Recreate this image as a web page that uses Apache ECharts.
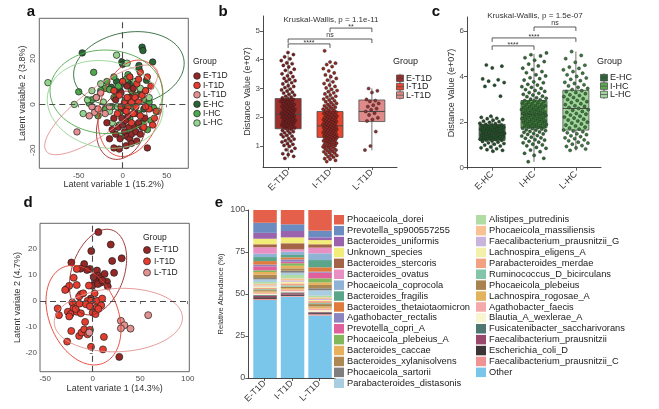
<!DOCTYPE html>
<html>
<head>
<meta charset="utf-8">
<script src="https://cdn.jsdelivr.net/npm/echarts@6/dist/echarts.min.js"></script>
<style>
html, body { margin: 0; padding: 0; background: #fff; }
#main { width: 659px; height: 409px; }
</style>
</head>
<body>
<div id="main"></div>
<script>
// groups and colours
var groupsT1D = ['E-T1D', 'I-T1D', 'L-T1D'];
var groupsHC = ['E-HC', 'I-HC', 'L-HC'];
var colorsT1D = ['#952727', '#E43D2F', '#E39190'];
var colorsHC = ['#2A6535', '#4FA84B', '#93D48E'];
var boxFillT1D = ['#9C2E2C', '#E8462F', '#DE8B89'];
var boxFillHC = ['#2E6A39', '#5CAE50', '#A1D79C'];
var pointT1D = ['#7a1c1c', '#952620', '#8a3434'];
var pointHC = ['#234f28', '#2f6a31', '#3a7a3b'];

// panel a : scores, latent variable 1 / 2
var scoresA_ET1D = [[2,-12],[5,-14],[8,-15],[10,-13],[12,-10],[-3,-15],[-8,-13],[-12,-11],[-5,-10],[0,-9],[3,-7],[6,-5],
  [-10,-6],[15,-12],[18,-8],[-15,-15],[-4,-19.5],[-10,-19],[4,-18],[10,-17],[20,-13],[8,3],[12,7],[-2,5],[5,8],
  [-8,2],[1,-2],[14,-4],[25,-6],[-18,-8],[28,-19],[7,-10],[-1,-6],[16,-16],[22,-10]];
var scoresA_IT1D = [[2,0.5],[6,-1],[10,1],[14,3],[18,1],[22,4],[26,6],[30,-2],[36,-6],[38,-3],[20,-5],[12,-4],
  [4,-3],[-4,4],[-10,6],[0,10],[8,12],[16,9],[28,12],[32,8],[24,-10],[34,-9],[-6,-4],[15,-1],[20,14],[18,11],
  [10,-8],[5,3],[-2,-1],[26,-1]];
var scoresA_LT1D = [[-35,-1],[-32,-3.5],[-28,-2],[-38,-5],[-52,-12],[-20,-4],[-25,5],[-15,-1],[-30,3]];
var scoresA_EHC = [[-46,22.5],[22,25],[23,23.5],[34,18.5],[-1,18.5],[0,17.5],[18.5,17],[18.5,15.5],[0,10],[1.5,9],
  [6,9.5],[27,10.5],[11.5,8.8],[-7,10],[-13,7.5],[8,12],[20,5],[-3,6],[14,3],[24,-2]];
var scoresA_IHC = [[-33,14],[-50,5.5],[6,13],[-20,7],[-15,6.5],[-25,6],[-30,3],[-38,0.5],[-10,3],[-5,8],[4,11],
  [10,6],[15,4],[25,2],[30,1],[35,-1.5],[18,-4],[22,-8],[28,-11],[8,-6],[-2,-3],[-12,-1],[-20,-2],[-28,-5],
  [-35,2],[-18,10],[-10,12],[3,2],[12,-1],[26,6],[32,-7],[16,-9],[-4,-9]];
var scoresA_LHC = [[-85,9.5],[-7,21.5],[-45,-4],[-55,0],[-40,2],[-30,-2],[-22,1],[-15,-3],[-6,-1],[2,1],[8,3],
  [14,10],[20,7],[5,18],[-25,9],[-35,6],[24,-6],[10,-12],[-2,-14],[30,3],[-12,-8],[40,-3]];
// ellipse: centre x, centre y, axis vector u (x,y), axis vector v (x,y)
var ellipsesA = [[-1.1,-9.1,9.1,14.8,27.3,-1.7],[8.7,-1.7,13.6,20.9,34.1,-2.6],[-24.4,-2.4,62.5,18,15,-7.7],
  [7,15.5,62,5,-10,15.5],[-18.5,5.5,63,3,-12,18],[-20,0,65,-5,10,18.5]];

// panel d : scores, latent variate 1 / 2
var scoresD_ET1D = [[6,26.6],[19,21.8],[-1.5,19.3],[20.5,15.5],[30.5,16.5],[22.5,10.9],[-22.5,14.9],[-9,14.3],
  [-3,12.4],[4.5,11.8],[6,9.8],[8,8.8],[12.5,10.5],[2.5,7.9],[9,7.2],[15,7.5],[-0.5,5.9],[15.8,5.7],[5.5,6.6],
  [-6,12],[-13,12.5],[10,8],[1,9.3],[-2,1],[28,-21.5]];
var scoresD_IT1D = [[-16.8,12.4],[-27.6,4.7],[-24.7,5.9],[-29,4.3],[-16.8,6.2],[-12.5,2.7],[-14.3,1.8],[-5.4,0.1],
  [-1.8,0.1],[-7.2,-1.2],[4.7,0.1],[3.6,-2.5],[9,-1.6],[0,-4.4],[-21.5,-0.5],[-20.4,-2.8],[-36.9,-2.8],[-35.5,-5.4],
  [-26.2,-4.1],[-23.3,-5],[-24.7,-5.9],[-16.8,-4.1],[-22.6,-11.5],[-14.3,-13.4],[-11.8,-12.1],[-9,-10.9],
  [-5.4,-12.8],[-2.9,-11.1],[-26.9,-15.6],[-1.8,-17.6],[11.8,-13.8],[10.8,-18.6],[-12.5,-4.7],[-18,-3],[-8,-8],
  [3,-5],[6,-3],[-3,-2],[10,1],[-10,3],[-20,9],[-4,6],[2,3],[-14,-1]];
var scoresD_LT1D = [[58.4,-5.4],[29.7,-7.6],[33.3,-9.3],[39.8,-10.6],[29.7,-10.5],[-3.6,-12.1]];
var ellipsesD = [[5.6,11.2,14.7,16.2,26.3,-3.1],[-9.7,-5.4,-21,18.5,33.4,5.1],[27,-7.3,67.5,1,1,-12.2]];

// panel b / c : distance values (e+07)
var distET1D = [0.57,0.64,0.7,0.73,0.82,0.87,0.92,0.99,1.02,1.06,1.08,1.14,1.17,1.19,1.24,1.26,1.32,1.34,1.37,1.4,
  1.45,1.46,1.5,1.53,1.54,1.58,1.61,1.63,1.63,1.67,1.7,1.71,1.73,1.76,1.78,1.8,1.81,1.84,1.86,1.87,1.89,1.92,1.93,
  1.95,1.97,1.99,2.01,2.02,2.04,2.06,2.07,2.09,2.11,2.12,2.15,2.16,2.18,2.2,2.21,2.23,2.26,2.27,2.29,2.31,2.33,2.36,
  2.37,2.39,2.42,2.44,2.46,2.48,2.51,2.53,2.55,2.58,2.6,2.62,2.64,2.67,2.7,2.73,2.77,2.8,2.84,2.87,2.91,2.95,2.98,
  3.03,3.07,3.1,3.16,3.2,3.25,3.27,3.32,3.35,3.41,3.44,3.51,3.55,3.63,3.67,3.75,3.8,3.86,3.89,3.97,4.03,4.1,4.18,4.25];
var distIT1D = [0.46,0.5,0.54,0.56,0.61,0.63,0.67,0.68,0.72,0.75,0.77,0.8,0.81,0.84,0.86,0.88,0.91,0.92,0.95,0.97,
  0.99,1.0,1.02,1.04,1.05,1.07,1.09,1.1,1.12,1.14,1.15,1.17,1.18,1.2,1.21,1.23,1.24,1.26,1.27,1.28,1.3,1.31,1.33,
  1.34,1.35,1.36,1.38,1.39,1.4,1.42,1.43,1.44,1.46,1.47,1.48,1.5,1.51,1.52,1.54,1.55,1.56,1.58,1.59,1.6,1.61,1.63,
  1.64,1.65,1.66,1.68,1.69,1.7,1.71,1.73,1.74,1.75,1.77,1.78,1.79,1.81,1.82,1.83,1.85,1.86,1.88,1.89,1.9,1.92,1.93,
  1.95,1.96,1.98,1.99,2.01,2.03,2.04,2.06,2.08,2.09,2.11,2.13,2.15,2.17,2.18,2.2,2.22,2.24,2.26,2.28,2.31,2.33,2.35,
  2.38,2.4,2.43,2.45,2.48,2.51,2.54,2.57,2.6,2.63,2.66,2.7,2.73,2.77,2.81,2.85,2.89,2.93,2.97,3.02,3.07,3.12,3.17,
  3.23,3.29,3.35,3.41,3.47,3.54,3.61,3.69,3.76,3.83,3.88,3.92,4.31];
var distLT1D = [3.0,2.92,2.86,2.62,2.58,2.55,2.48,2.42,2.37,2.3,2.26,2.2,2.14,2.08,1.98,1.92,1.87,1.5,1.0,0.86];
var distEHC = [4.51,4.46,4.38,3.9,3.86,3.8,3.74,3.62,3.57,3.14,2.26,2.21,2.17,2.15,2.11,2.08,2.04,2.02,1.99,1.95,
  1.93,1.9,1.88,1.87,1.84,1.81,1.8,1.77,1.76,1.73,1.72,1.69,1.68,1.65,1.64,1.61,1.6,1.57,1.56,1.53,1.51,1.5,1.47,
  1.46,1.43,1.42,1.39,1.37,1.36,1.33,1.31,1.3,1.27,1.25,1.23,1.21,1.2,1.17,1.15,1.12,1.09,1.06,1.03,0.99,0.95,0.91,
  0.87,0.83,0.79,0.76,0.72];
var distIHC = [0.26,0.41,0.54,0.63,0.7,0.77,0.85,0.89,0.96,1.0,1.03,1.09,1.12,1.16,1.21,1.23,1.29,1.31,1.34,1.39,
  1.41,1.46,1.48,1.5,1.55,1.57,1.59,1.63,1.65,1.66,1.7,1.72,1.73,1.76,1.78,1.79,1.82,1.84,1.85,1.87,1.9,1.91,1.93,
  1.96,1.97,1.99,2.02,2.03,2.05,2.08,2.09,2.11,2.13,2.15,2.17,2.19,2.2,2.23,2.24,2.26,2.29,2.3,2.32,2.34,2.36,2.38,
  2.39,2.42,2.43,2.45,2.48,2.49,2.51,2.53,2.55,2.57,2.59,2.62,2.63,2.65,2.67,2.69,2.72,2.73,2.76,2.78,2.8,2.83,2.85,
  2.87,2.9,2.93,2.95,2.98,3.01,3.05,3.07,3.12,3.14,3.19,3.22,3.27,3.3,3.35,3.39,3.43,3.48,3.53,3.56,3.63,3.66,3.73,
  3.77,3.85,3.91,3.95,4.03,4.08,4.17,4.22,4.31,4.37,4.47,4.55,4.66,4.72,4.83,4.91,4.96,5.04];
var distLHC = [0.76,0.82,0.87,0.93,0.97,1.03,1.08,1.12,1.18,1.22,1.27,1.31,1.36,1.4,1.45,1.49,1.53,1.58,1.61,1.65,
  1.69,1.74,1.78,1.83,1.87,1.92,1.96,2.0,2.05,2.09,2.13,2.18,2.22,2.26,2.31,2.35,2.38,2.43,2.47,2.52,2.55,2.6,2.64,
  2.69,2.72,2.77,2.81,2.86,2.9,2.95,2.99,3.03,3.08,3.12,3.17,3.2,3.25,3.3,3.34,3.38,3.43,3.48,3.53,3.59,3.64,3.7,
  3.75,3.82,3.88,3.94,4.01,4.08,4.15,4.22,4.3,4.36,4.42,4.5,4.63,4.79,4.93,5.1];
// box statistics: min whisker, q1, median, q3, max whisker
var boxStatsT1D = [[0.58,1.6,2.1,2.65,4.15],[0.5,1.3,1.7,2.2,3.5],[0.85,1.85,2.2,2.6,3.0]];
var boxStatsHC = [[0.7,1.2,1.5,1.9,2.25],[0.25,1.75,2.35,2.95,5.0],[0.75,1.65,2.6,3.4,5.1]];
// pairwise comparisons
var pairsT1D = [[1,2],[1,3],[2,3]];
var pairYT1D = [4.55,4.72,5.1];
var pairLabelT1D = ['****','ns','**'];
var pairsHC = [[1,2],[1,3],[2,3]];
var pairYHC = [5.35,5.7,6.18];
var pairLabelHC = ['****','****','ns'];

// panel e : relative abundance (%)
var species = ['Phocaeicola_dorei','Prevotella_sp900557255','Bacteroides_uniformis','Unknown_species',
  'Bacteroides_stercoris','Bacteroides_ovatus','Phocaeicola_coprocola','Bacteroides_fragilis',
  'Bacteroides_thetaiotaomicron','Agathobacter_rectalis','Prevotella_copri_A','Phocaeicola_plebeius_A',
  'Bacteroides_caccae','Bacteroides_xylanisolvens','Phocaeicola_sartorii','Parabacteroides_distasonis',
  'Alistipes_putredinis','Phocaeicola_massiliensis','Faecalibacterium_prausnitzii_G','Lachnospira_eligens_A',
  'Parabacteroides_merdae','Ruminococcus_D_bicirculans','Phocaeicola_plebeius','Lachnospira_rogosae_A',
  'Agathobacter_faecis','Blautia_A_wexlerae_A','Fusicatenibacter_saccharivorans','Faecalibacterium_prausnitzii',
  'Escherichia_coli_D','Faecalibacterium_prausnitzii_C','Other'];
var speciesColors = ['#E5604A','#6B8CC0','#9B63AE','#F2EC78','#A46448','#E890C3','#8FB3D4','#5BA68A','#E07B3E',
  '#8B84C0','#E0609C','#80B85B','#E7B15B','#AE8852','#7F7F7F','#A9CDE1','#B2DDA2','#F9C293','#C9B5DC','#F3F0A9',
  '#F4A082','#82C5A9','#A8834F','#E2B25F','#F5A9A8','#F8F5D2','#4D7770','#984868','#3B3535','#F09393','#7AC6EA'];
var abundET1D = [7.6,6.0,3.5,3.3,1.8,3.8,2.0,2.4,2.1,1.0,2.4,1.0,1.6,2.0,0.8,1.6,1.0,1.0,0.6,0.8,0.8,0.6,0.7,0.8,
  0.7,0.7,0.4,0.9,1.0,0.7,46.4];
var abundIT1D = [8.5,4.0,3.8,3.5,3.6,1.4,2.0,1.4,1.2,1.4,0.9,1.5,1.5,1.4,1.2,1.4,2.0,1.2,0.8,1.0,1.2,0.8,0.8,0.9,
  1.0,0.6,0.5,0.9,0.7,0.5,48.4];
var abundLT1D = [12.3,4.0,1.6,2.5,2.0,3.4,4.0,4.3,2.6,0.6,3.4,2.4,1.5,2.0,1.2,3.2,1.0,1.0,0.6,0.6,1.2,0.6,1.4,1.2,
  1.0,1.0,0.3,0.5,0.6,0.8,37.2];

var FONT = 'Liberation Sans, Arial, sans-serif';
var chart = echarts.init(document.getElementById('main'));

function jitter(values, centre, half) {
  return values.map(function (v, i) {
    var f = (i * 0.6180339887 + 0.27) % 1;
    return [centre + (f * 2 - 1) * half, v];
  });
}

function ellipseItem(params, api) {
  var pts = [];
  for (var k = 0; k <= 96; k++) {
    var t = k / 96 * Math.PI * 2;
    pts.push(api.coord([
      api.value(0) + api.value(2) * Math.cos(t) + api.value(4) * Math.sin(t),
      api.value(1) + api.value(3) * Math.cos(t) + api.value(5) * Math.sin(t)
    ]));
  }
  return { type: 'polyline', shape: { points: pts }, style: { fill: 'none', stroke: api.visual('color'), lineWidth: 0.9 } };
}

function boxItem(params, api) {
  var x = api.value(0);
  var lo = api.coord([x, api.value(1)]);
  var q1 = api.coord([x, api.value(2)]);
  var md = api.coord([x, api.value(3)]);
  var q3 = api.coord([x, api.value(4)]);
  var hi = api.coord([x, api.value(5)]);
  var w = 26, cx = lo[0];
  var edge = '#4d4d4d';
  return { type: 'group', children: [
    { type: 'line', shape: { x1: cx, y1: hi[1], x2: cx, y2: q3[1] }, style: { stroke: edge, lineWidth: 0.8 } },
    { type: 'line', shape: { x1: cx, y1: q1[1], x2: cx, y2: lo[1] }, style: { stroke: edge, lineWidth: 0.8 } },
    { type: 'rect', shape: { x: cx - w / 2, y: q3[1], width: w, height: q1[1] - q3[1] }, style: { fill: api.visual('color'), stroke: edge, lineWidth: 0.8 } },
    { type: 'line', shape: { x1: cx - w / 2, y1: md[1], x2: cx + w / 2, y2: md[1] }, style: { stroke: edge, lineWidth: 1.1 } }
  ] };
}

function bracketRender(labels) {
  return function (params, api) {
    var a = api.coord([api.value(0), api.value(2)]);
    var b = api.coord([api.value(1), api.value(2)]);
    var tip = 4;
    var label = labels[params.dataIndex];
    // asterisks sit high in the em box, so they are dropped a little
    var ly = label.indexOf('*') >= 0 ? a[1] + 2.5 : a[1] - 0.5;
    return { type: 'group', children: [
      { type: 'polyline', shape: { points: [[a[0], a[1] + tip], [a[0], a[1]], [b[0], b[1]], [b[0], b[1] + tip]] },
        style: { fill: 'none', stroke: '#333', lineWidth: 0.8 } },
      { type: 'text', x: (a[0] + b[0]) / 2, y: ly,
        style: { text: label, fill: '#333', font: '7px ' + FONT, textAlign: 'center', textVerticalAlign: 'bottom', align: 'center', verticalAlign: 'bottom' } }
    ] };
  };
}

function scatter(name, data, color, idx, size, z) {
  return { type: 'scatter', name: name, xAxisIndex: idx, yAxisIndex: idx, data: data, symbolSize: size, silent: true, z: z || 3,
    itemStyle: { color: color, borderColor: '#1f1f1f', borderWidth: 0.7, opacity: 1 } };
}

function zeroLines(idx) {
  return { type: 'scatter', xAxisIndex: idx, yAxisIndex: idx, data: [], z: 2, silent: true,
    markLine: { silent: true, symbol: 'none', animation: false, label: { show: false },
      lineStyle: { type: [6, 4], color: '#4a4a4a', width: 1.1 }, data: [{ xAxis: 0 }, { yAxis: 0 }] } };
}

function ellipseSeries(params, colors, idx) {
  return { type: 'custom', xAxisIndex: idx, yAxisIndex: idx, renderItem: ellipseItem, silent: true, z: 4, clip: true,
    data: params.map(function (p, i) { return { value: p, itemStyle: { color: colors[i] } }; }) };
}

function boxSeries(stats, fills, idx) {
  return { type: 'custom', xAxisIndex: idx, yAxisIndex: idx, renderItem: boxItem, silent: true, z: 2,
    data: stats.map(function (s, i) { return { value: [i + 1].concat(s), itemStyle: { color: fills[i] } }; }) };
}

function bracketSeries(pairs, ys, labels, idx) {
  return { type: 'custom', xAxisIndex: idx, yAxisIndex: idx, renderItem: bracketRender(labels), silent: true, z: 5,
    data: pairs.map(function (p, i) { return [p[0], p[1], ys[i]]; }) };
}

var labelGrey = '#4d4d4d';

function scoreAxis(idx, min, max, ticks, name, gap, rotate) {
  return { gridIndex: idx, type: 'value', min: min, max: max, axisLine: { show: false }, splitLine: { show: false },
    axisTick: { customValues: ticks, length: 3, lineStyle: { color: '#555', width: 0.8 } },
    axisLabel: { customValues: ticks, fontSize: 8, color: labelGrey, margin: 3, rotate: rotate || 0 },
    name: name, nameLocation: 'middle', nameGap: gap, nameTextStyle: { fontSize: 9, color: '#333' } };
}

function catValueAxis(idx, names, size) {
  return { gridIndex: idx, type: 'value', min: 0.4, max: 3.6, splitLine: { show: false },
    axisLine: { lineStyle: { color: '#333', width: 0.9 } },
    axisTick: { customValues: [1, 2, 3], length: 3, lineStyle: { color: '#333', width: 0.8 } },
    axisLabel: { customValues: [1, 2, 3], rotate: 45, fontSize: size, color: '#333', margin: 4,
      formatter: function (v) { return names[Math.round(v) - 1]; } } };
}

function distAxis(idx, min, max, ticks, gap) {
  return { gridIndex: idx, type: 'value', min: min, max: max, splitLine: { show: false },
    axisLine: { show: true, lineStyle: { color: '#333', width: 0.9 } },
    axisTick: { customValues: ticks, length: 3, lineStyle: { color: '#333', width: 0.8 } },
    axisLabel: { customValues: ticks, fontSize: 8, color: labelGrey, margin: 3 },
    name: 'Distance Value (e+07)', nameLocation: 'middle', nameGap: gap, nameTextStyle: { fontSize: 9, color: '#333' } };
}

var series = [];
// panel a
series.push(zeroLines(0));
[scoresA_EHC, scoresA_IHC, scoresA_LHC].forEach(function (d, i) { series.push(scatter(groupsHC[i], d, colorsHC[i], 0, 6.5)); });
[scoresA_ET1D, scoresA_IT1D, scoresA_LT1D].forEach(function (d, i) { series.push(scatter(groupsT1D[i], d, colorsT1D[i], 0, 6.5)); });
series.push(ellipseSeries(ellipsesA, colorsT1D.concat(colorsHC), 0));
// panel b
series.push(boxSeries(boxStatsT1D, boxFillT1D, 1));
[distET1D, distIT1D, distLT1D].forEach(function (d, i) {
  var sr = scatter(groupsT1D[i], jitter(d, i + 1, 0.17), pointT1D[i], 1, 3.2);
  sr.itemStyle.borderWidth = 0.4;
  series.push(sr);
});
series.push(bracketSeries(pairsT1D, pairYT1D, pairLabelT1D, 1));
// panel c
series.push(boxSeries(boxStatsHC, boxFillHC, 2));
[distEHC, distIHC, distLHC].forEach(function (d, i) {
  var sr = scatter(groupsHC[i], jitter(d, i + 1, 0.3), pointHC[i], 2, 3.2);
  sr.itemStyle.borderWidth = 0.4;
  series.push(sr);
});
series.push(bracketSeries(pairsHC, pairYHC, pairLabelHC, 2));
// panel d
series.push(zeroLines(3));
[scoresD_ET1D, scoresD_IT1D, scoresD_LT1D].forEach(function (d, i) { series.push(scatter(groupsT1D[i], d, colorsT1D[i], 3, 7)); });
series.push(ellipseSeries(ellipsesD, colorsT1D, 3));
// panel e : bars live on a hidden category grid (5) that lines up with the visible axes of grid 4;
// stacked from the bottom (Other) upwards
for (var s = species.length - 1; s >= 0; s--) {
  series.push({ type: 'bar', name: species[s], stack: 'abund', xAxisIndex: 5, yAxisIndex: 5, barWidth: 23.5, silent: true,
    itemStyle: { color: speciesColors[s] },
    data: [abundET1D[s], abundIT1D[s], abundLT1D[s]] });
}

// legends and panel letters drawn as graphic
var graphics = [];
function txt(x, y, text, size, opts) {
  opts = opts || {};
  graphics.push({ type: 'text', x: x, y: y, silent: true,
    style: { text: text, fill: opts.color || '#222', font: (opts.bold ? 'bold ' : '') + size + 'px ' + FONT,
      textAlign: opts.align || 'left', textVerticalAlign: 'middle', align: opts.align || 'left', verticalAlign: 'middle' } });
}
[['a', 31, 12], ['b', 223, 12], ['c', 436, 12], ['d', 28, 203], ['e', 219, 203]].forEach(function (l) {
  txt(l[1], l[2], l[0], 15, { bold: true, color: '#111', align: 'center' });
});
// legend a
txt(193, 62, 'Group', 8.5);
groupsT1D.concat(groupsHC).forEach(function (g, i) {
  var y = 76 + i * 9.4;
  graphics.push({ type: 'circle', silent: true, shape: { cx: 197, cy: y, r: 3.3 },
    style: { fill: colorsT1D.concat(colorsHC)[i], stroke: '#1f1f1f', lineWidth: 0.7 } });
  txt(203, y, g, 8.5);
});
// legend d
txt(143, 238, 'Group', 8.5);
groupsT1D.forEach(function (g, i) {
  var y = 250 + i * 11.3;
  graphics.push({ type: 'circle', silent: true, shape: { cx: 147, cy: y, r: 3.5 },
    style: { fill: colorsT1D[i], stroke: '#1f1f1f', lineWidth: 0.7 } });
  txt(154, y, g, 8.5);
});
// box legends b and c
function boxLegend(x0, y0, names, fills) {
  txt(x0, 62, 'Group', 9);
  names.forEach(function (g, i) {
    var y = y0 + i * 8.4;
    graphics.push({ type: 'line', silent: true, shape: { x1: x0 + 7, y1: y - 4.5, x2: x0 + 7, y2: y + 4.5 }, style: { stroke: '#444', lineWidth: 0.7 } });
    graphics.push({ type: 'rect', silent: true, shape: { x: x0 + 3.5, y: y - 3.3, width: 7, height: 6.6 }, style: { fill: fills[i], stroke: '#444', lineWidth: 0.7 } });
    graphics.push({ type: 'line', silent: true, shape: { x1: x0 + 3.5, y1: y, x2: x0 + 10.5, y2: y }, style: { stroke: '#444', lineWidth: 0.7 } });
    txt(x0 + 13, y, g, 9);
  });
}
boxLegend(393, 78.3, groupsT1D, boxFillT1D);
boxLegend(597, 77.7, groupsHC, boxFillHC);

var legendStyle = { orient: 'vertical', itemWidth: 10, itemHeight: 9.5, itemGap: 1.4, icon: 'rect', selectedMode: false,
  textStyle: { fontSize: 9.3, color: '#1a1a1a', fontFamily: FONT, lineHeight: 9.5, padding: [0, 0, 0, -2] }, padding: 0 };
var titleStyle = { fontSize: 8, fontWeight: 'normal', color: '#333', lineHeight: 8 };

chart.setOption({
  animation: false,
  textStyle: { fontFamily: FONT },
  title: [
    { text: 'Kruskal-Wallis, p = 1.1e-11', left: 331, top: 16, padding: 0, textAlign: 'center', textStyle: titleStyle },
    { text: 'Kruskal-Wallis, p = 1.5e-07', left: 535, top: 12, padding: 0, textAlign: 'center', textStyle: titleStyle }
  ],
  legend: [
    Object.assign({ left: 334, top: 215, data: species.slice(0, 16) }, legendStyle),
    Object.assign({ left: 476, top: 215, data: species.slice(16) }, legendStyle)
  ],
  grid: [
    { left: 39.3, top: 18.3, width: 149, height: 150, show: true, borderColor: '#555', borderWidth: 0.9, backgroundColor: 'transparent' },
    { left: 263, top: 16, width: 134, height: 151 },
    { left: 467, top: 17, width: 134, height: 152 },
    { left: 40, top: 223.3, width: 149.3, height: 148.4, show: true, borderColor: '#555', borderWidth: 0.9, backgroundColor: 'transparent' },
    { left: 248.3, top: 210, width: 87, height: 168 },
    { left: 251.3, top: 210, width: 82.5, height: 168 }
  ],
  xAxis: [
    scoreAxis(0, -94.8, 74.5, [-50, 0, 50], 'Latent variable 1 (15.2%)', 10),
    catValueAxis(1, groupsT1D, 9),
    catValueAxis(2, groupsHC, 9),
    scoreAxis(3, -55.5, 101.7, [-50, 0, 50, 100], 'Latent variate 1 (14.3%)', 11),
    catValueAxis(4, groupsT1D, 9),
    { gridIndex: 5, type: 'category', data: groupsT1D, show: false }
  ],
  yAxis: [
    scoreAxis(0, -27.9, 37.6, [-20, 0, 20], 'Latent variable 2 (3.8%)', 10, 90),
    distAxis(1, 0.27, 5.52, [1, 2, 3, 4, 5], 11),
    distAxis(2, -0.06, 6.62, [0, 2, 4, 6], 10),
    scoreAxis(3, -27.2, 30, [-20, -10, 0, 10, 20], 'Latent variate 2 (4.7%)', 15),
    { gridIndex: 4, type: 'value', min: 0, max: 100, interval: 25, splitLine: { show: false },
      axisLine: { show: true, lineStyle: { color: '#333', width: 0.9 } },
      axisTick: { show: true, length: 3, lineStyle: { color: '#333', width: 0.8 } },
      axisLabel: { fontSize: 9, color: labelGrey, margin: 3 },
      name: 'Relative Abundance (%)', nameLocation: 'middle', nameGap: 23, nameTextStyle: { fontSize: 7.5, color: '#333' } },
    { gridIndex: 5, type: 'value', min: 0, max: 100, show: false }
  ],
  series: series,
  graphic: graphics
});
</script>
</body>
</html>
